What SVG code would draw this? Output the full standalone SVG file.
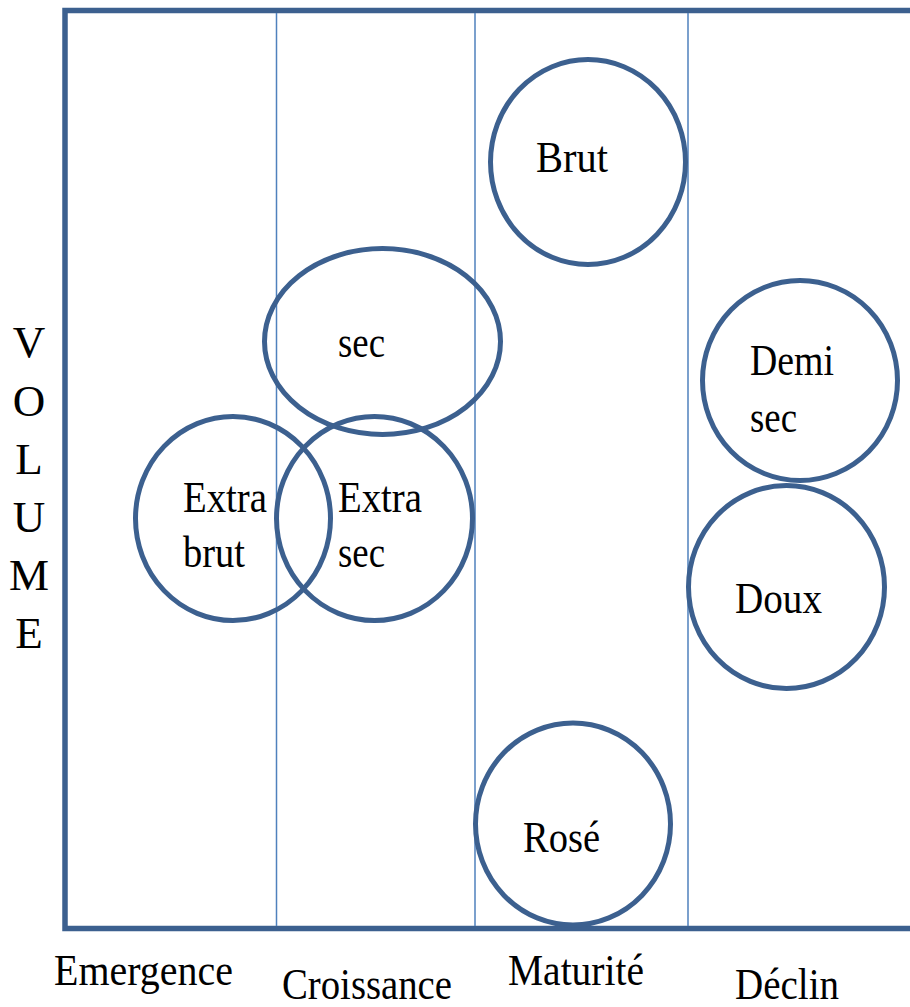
<svg xmlns="http://www.w3.org/2000/svg" width="910" height="1007" viewBox="0 0 910 1007">
  <style>
    .frame { fill: none; stroke: #3c608f; stroke-width: 5.5; }
    .divider { stroke: #4f81bd; stroke-width: 1.5; }
    .bubble { fill: none; stroke: #3c608f; stroke-width: 5; }
    text { font-family: "Liberation Serif", "Times New Roman", serif; font-size: 45px; fill: #000; }
    .axis { text-anchor: middle; }
  </style>

  <rect width="910" height="1007" fill="#ffffff"/>

  <!-- chart frame and phase dividers -->
  <g id="frame">
    <rect class="frame" x="65" y="10.5" width="870" height="918"/>
    <line class="divider" x1="276.5" y1="13" x2="276.5" y2="926"/>
    <line class="divider" x1="475" y1="13" x2="475" y2="926"/>
    <line class="divider" x1="688" y1="13" x2="688" y2="926"/>
  </g>

  <!-- vertical axis title -->
  <g id="axis-volume" class="axis">
    <text x="29" y="357">V</text>
    <text x="29" y="416">O</text>
    <text x="29" y="474">L</text>
    <text x="29" y="532">U</text>
    <text x="29" y="590">M</text>
    <text x="29" y="648">E</text>
  </g>

  <!-- phase labels -->
  <g id="phase-labels">
    <text x="54" y="985" textLength="179" lengthAdjust="spacingAndGlyphs">Emergence</text>
    <text x="282" y="999" textLength="170" lengthAdjust="spacingAndGlyphs">Croissance</text>
    <text x="508" y="985" textLength="136" lengthAdjust="spacingAndGlyphs">Maturité</text>
    <text x="735" y="999" textLength="104" lengthAdjust="spacingAndGlyphs">Déclin</text>
  </g>

  <!-- product bubbles -->
  <g id="node-brut">
    <ellipse class="bubble" cx="588" cy="162" rx="97.5" ry="102.5"/>
    <text x="536" y="172" textLength="72" lengthAdjust="spacingAndGlyphs">Brut</text>
  </g>

  <g id="node-sec">
    <ellipse class="bubble" cx="382.5" cy="341.5" rx="118" ry="93"/>
    <text x="338" y="357" textLength="47" lengthAdjust="spacingAndGlyphs">sec</text>
  </g>

  <g id="node-extra-brut">
    <ellipse class="bubble" cx="233" cy="518.5" rx="97.5" ry="102"/>
    <text x="183" y="512" textLength="84" lengthAdjust="spacingAndGlyphs">Extra</text>
    <text x="183" y="567" textLength="62" lengthAdjust="spacingAndGlyphs">brut</text>
  </g>

  <g id="node-extra-sec">
    <ellipse class="bubble" cx="374.5" cy="518.5" rx="98" ry="102"/>
    <text x="338" y="512" textLength="84" lengthAdjust="spacingAndGlyphs">Extra</text>
    <text x="338" y="567" textLength="47" lengthAdjust="spacingAndGlyphs">sec</text>
  </g>

  <g id="node-demi-sec">
    <ellipse class="bubble" cx="800" cy="380.5" rx="97.5" ry="100"/>
    <text x="750" y="375" textLength="84" lengthAdjust="spacingAndGlyphs">Demi</text>
    <text x="750" y="432" textLength="47" lengthAdjust="spacingAndGlyphs">sec</text>
  </g>

  <g id="node-doux">
    <ellipse class="bubble" cx="786.5" cy="587" rx="98" ry="101.5"/>
    <text x="735" y="613" textLength="87" lengthAdjust="spacingAndGlyphs">Doux</text>
  </g>

  <g id="node-rose">
    <ellipse class="bubble" cx="573" cy="824" rx="97.5" ry="101"/>
    <text x="523" y="852" textLength="77" lengthAdjust="spacingAndGlyphs">Rosé</text>
  </g>

  <!-- no connectors in this chart -->
  <g id="connectors"/>
</svg>
